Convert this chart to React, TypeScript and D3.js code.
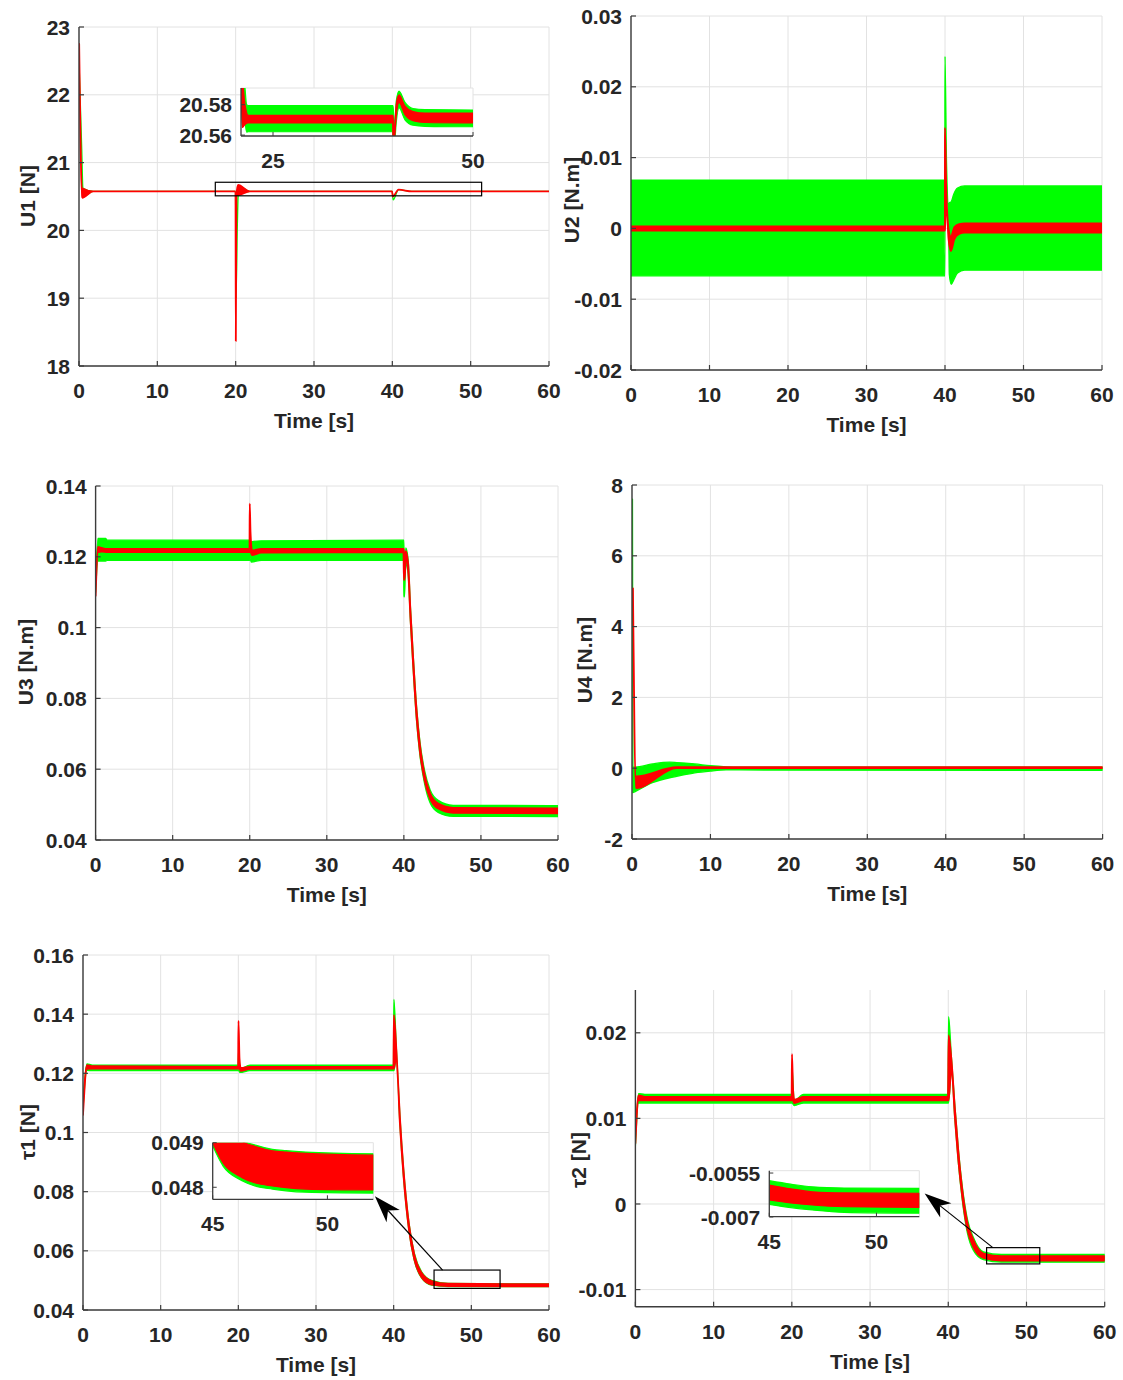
import React from "react";
import * as d3 from "d3";

type Pt = [number, number, number]; // [time, low, high]

const FONT = "'Liberation Sans', Arial, Helvetica, sans-serif";
const GREEN = "#00ff00";
const RED = "#ff0000";
const GRID = "#e2e2e2";
const AXIS = "#3c3c3c";
const TEXT = "#262626";

// ---------- shared time axis ----------
const timeTicks = [0, 10, 20, 30, 40, 50, 60];
const timeTickLabels = ["0", "10", "20", "30", "40", "50", "60"];

// ---------- U1 ----------
const u1YTicks = [18, 19, 20, 21, 22, 23];
const u1YLabels = ["18", "19", "20", "21", "22", "23"];
const u1Green: Pt[] = [
  [0, 22.5, 22.5], [0.35, 21.2, 21.2], [0.5, 20.5, 20.62], [1.8, 20.575, 20.575],
  [19.98, 20.575, 20.575], [20.05, 19.0, 19.0], [20.2, 20.0, 20.0], [20.35, 20.52, 20.66],
  [21.8, 20.575, 20.575], [40.0, 20.575, 20.575], [40.1, 20.45, 20.45], [40.8, 20.6, 20.6],
  [42.5, 20.575, 20.575], [60, 20.575, 20.575],
];
const u1Red: Pt[] = [
  [0.02, 22.75, 22.75], [0.4, 20.48, 20.62], [1.8, 20.575, 20.575], [19.98, 20.575, 20.575],
  [20.02, 18.37, 18.37], [20.1, 20.52, 20.52], [20.3, 20.52, 20.67], [21.8, 20.575, 20.575],
  [39.97, 20.575, 20.575], [40.05, 20.5, 20.5], [40.8, 20.6, 20.6], [42.5, 20.575, 20.575],
  [60, 20.575, 20.575],
];
const u1InsetGreen: Pt[] = [
  [21.0, 20.595, 20.595], [21.4, 20.575, 20.595], [21.7, 20.562, 20.58], [21.9, 20.5622, 20.5794],
  [39.95, 20.5622, 20.5794], [40.0, 20.556, 20.5794], [40.2, 20.556, 20.565], [40.4, 20.568, 20.582],
  [40.75, 20.578, 20.589], [41.5, 20.570, 20.5815], [42.5, 20.5665, 20.5775], [44, 20.5658, 20.5768],
  [50, 20.5655, 20.5765],
];
const u1InsetRed: Pt[] = [
  [21.0, 20.595, 20.595], [21.15, 20.565, 20.595], [21.5, 20.567, 20.58], [21.9, 20.568, 20.573],
  [39.95, 20.568, 20.573], [40.0, 20.556, 20.573], [40.15, 20.556, 20.562], [40.4, 20.572, 20.58],
  [40.75, 20.5815, 20.5865], [41.5, 20.5735, 20.579], [42.5, 20.5695, 20.5755], [44, 20.5683, 20.5745],
  [50, 20.568, 20.5745],
];
const u1InsetXTicks = [25, 50];
const u1InsetXLabels = ["25", "50"];
const u1InsetYTicks = [20.56, 20.58];
const u1InsetYLabels = ["20.56", "20.58"];
const u1ZoomBox = [17.4, 51.4, 20.51, 20.71];

// ---------- U2 ----------
const u2YTicks = [-0.02, -0.01, 0, 0.01, 0.02, 0.03];
const u2YLabels = ["-0.02", "-0.01", "0", "0.01", "0.02", "0.03"];
const u2Green: Pt[] = [
  [0, -0.0067, 0.0068], [39.99, -0.0067, 0.0068], [40.0, 0.016, 0.0243], [40.2, 0.006, 0.009],
  [40.45, 0.0015, 0.0035], [40.55, -0.0065, 0.0036], [40.8, -0.0079, 0.0038], [41.1, -0.0073, 0.0048],
  [41.6, -0.0063, 0.0057], [42.5, -0.0059, 0.006], [60, -0.0059, 0.006],
];
const u2Red: Pt[] = [
  [0, -0.0003, 0.0003], [39.98, -0.0003, 0.0003], [40.0, 0.0, 0.0142], [40.15, 0.004, 0.006],
  [40.45, -0.0015, 0.0], [40.75, -0.0032, -0.0012], [41.2, -0.0015, 0.0002], [41.8, -0.0008, 0.0006],
  [42.5, -0.0006, 0.0007], [60, -0.0006, 0.0007],
];

// ---------- U3 ----------
const u3YTicks = [0.04, 0.06, 0.08, 0.1, 0.12, 0.14];
const u3YLabels = ["0.04", "0.06", "0.08", "0.1", "0.12", "0.14"];
const u3Green: Pt[] = [
  [0, 0.110, 0.112], [0.3, 0.1188, 0.1252], [1.3, 0.1188, 0.1252], [1.5, 0.119, 0.1247],
  [20.0, 0.119, 0.1247], [20.05, 0.1195, 0.124], [20.2, 0.1185, 0.1242], [21.5, 0.119, 0.1245],
  [39.97, 0.119, 0.1247], [40.0, 0.1087, 0.1247], [40.08, 0.1087, 0.112], [40.25, 0.118, 0.1225],
  [40.55, 0.1152, 0.1192], [40.85, 0.1019, 0.1059], [41.2, 0.0886, 0.0926], [41.65, 0.0736, 0.0776],
  [42.07, 0.0642, 0.0681], [42.7, 0.0558, 0.0595], [43.4, 0.0505, 0.0542], [44.45, 0.0478, 0.0512],
  [46.4, 0.0467, 0.0498], [60, 0.0466, 0.0497],
];
const u3Red: Pt[] = [
  [0, 0.109, 0.110], [0.3, 0.1213, 0.1228], [0.8, 0.1215, 0.1225], [1.5, 0.1213, 0.1222],
  [19.97, 0.1213, 0.1222], [20.0, 0.1213, 0.135], [20.1, 0.1213, 0.127], [20.3, 0.1205, 0.1218],
  [21.5, 0.1212, 0.1222], [39.95, 0.1213, 0.1222], [40.0, 0.1135, 0.1222], [40.1, 0.1135, 0.118],
  [40.25, 0.1198, 0.1216], [40.55, 0.1162, 0.1182], [40.85, 0.1029, 0.1049], [41.2, 0.0896, 0.0916],
  [41.65, 0.0746, 0.0766], [42.07, 0.0652, 0.067], [42.7, 0.0568, 0.0584], [43.4, 0.0517, 0.0532],
  [44.45, 0.0489, 0.0503], [46.4, 0.0477, 0.0491], [60, 0.0475, 0.0489],
];

// ---------- U4 ----------
const u4YTicks = [-2, 0, 2, 4, 6, 8];
const u4YLabels = ["-2", "0", "2", "4", "6", "8"];
const u4Green: Pt[] = [
  [0.06, 7.6, 7.6], [0.12, -0.69, 0.03], [0.4, -0.66, 0.03], [2.6, -0.41, 0.12], [4.8, -0.27, 0.17],
  [5.7, -0.23, 0.16], [8, -0.13, 0.12], [10, -0.08, 0.07], [12, -0.05, 0.04], [13.7, -0.05, 0.03],
  [60, -0.06, 0.03],
];
const u4Red: Pt[] = [
  [0.12, 5.08, 5.08], [0.5, -0.56, -0.23], [5.7, 0.0, 0.03], [60, 0.0, 0.03],
];

// ---------- tau1 ----------
const t1YTicks = [0.04, 0.06, 0.08, 0.1, 0.12, 0.14, 0.16];
const t1YLabels = ["0.04", "0.06", "0.08", "0.1", "0.12", "0.14", "0.16"];
const t1Green: Pt[] = [
  [0, 0.108, 0.110], [0.5, 0.121, 0.1232], [1.2, 0.1209, 0.1228], [19.97, 0.1209, 0.1228],
  [20.05, 0.121, 0.128], [20.2, 0.1203, 0.1215], [21.5, 0.1209, 0.1228], [39.97, 0.1209, 0.1228],
  [40.03, 0.1209, 0.145], [40.35, 0.1255, 0.1283], [40.8, 0.1028, 0.1057], [41.27, 0.0849, 0.0878],
  [41.96, 0.0669, 0.0696], [42.65, 0.0568, 0.0593], [43.6, 0.0508, 0.0529], [44.9, 0.0484, 0.05],
  [47, 0.0479, 0.049], [60, 0.0479, 0.0488],
];
const t1Red: Pt[] = [
  [0, 0.106, 0.107], [0.5, 0.1215, 0.1228], [1.2, 0.1216, 0.1224], [19.97, 0.1216, 0.1222],
  [20.02, 0.1216, 0.1377], [20.15, 0.1216, 0.125], [20.3, 0.1208, 0.1218], [21.5, 0.1215, 0.1222],
  [39.97, 0.1216, 0.1222], [40.03, 0.1216, 0.1397], [40.35, 0.1258, 0.1278], [40.8, 0.1032, 0.1052],
  [41.27, 0.0853, 0.0873], [41.96, 0.0673, 0.0691], [42.65, 0.0572, 0.0588], [43.6, 0.0511, 0.0525],
  [44.9, 0.0486, 0.0498], [47, 0.0481, 0.0489], [60, 0.048, 0.0487],
];
const t1InsetRed: Pt[] = [
  [45, 0.049, 0.0492], [45.46, 0.04854, 0.0492], [46.2, 0.04824, 0.0492], [46.3, 0.04821, 0.04903],
  [46.9, 0.04809, 0.04891], [47.6, 0.04803, 0.04882], [48.2, 0.04799, 0.04879], [49.06, 0.04796, 0.04876],
  [52, 0.04794, 0.04872],
];
const t1InsetGreen: Pt[] = [
  [45, 0.04893, 0.0492], [45.46, 0.04847, 0.0492], [46.2, 0.04817, 0.0492], [46.3, 0.04814, 0.04906],
  [46.9, 0.04802, 0.04894], [47.6, 0.04796, 0.04885], [48.2, 0.04792, 0.04882], [49.06, 0.04789, 0.04879],
  [52, 0.04787, 0.04875],
];
const t1InsetXTicks = [45, 50];
const t1InsetXLabels = ["45", "50"];
const t1InsetYTicks = [0.048, 0.049];
const t1InsetYLabels = ["0.048", "0.049"];
const t1ZoomBox = [45.2, 53.7, 0.0473, 0.0535];
const t1ArrowTail = [46.3, 0.0535];
const t1ArrowTip = [52.07, 0.0478];

// ---------- tau2 ----------
const t2YTicks = [-0.01, 0, 0.01, 0.02];
const t2YLabels = ["-0.01", "0", "0.01", "0.02"];
const t2Green: Pt[] = [
  [0, 0.0068, 0.0074], [0.4, 0.0118, 0.0129], [1.2, 0.0118, 0.0128], [19.97, 0.0118, 0.0128],
  [20.02, 0.0118, 0.016], [20.3, 0.0115, 0.0121], [21.5, 0.0118, 0.0128], [39.97, 0.0118, 0.0128],
  [40.04, 0.0118, 0.0219], [40.4, 0.0156, 0.0172], [40.85, 0.0098, 0.0114], [41.3, 0.0047, 0.0063],
  [41.8, 0.0004, 0.002], [42.45, -0.0034, -0.0018], [43.2, -0.0054, -0.0039], [44.5, -0.0065, -0.0056],
  [46.8, -0.0068, -0.0059], [60, -0.0068, -0.0059],
];
const t2Red: Pt[] = [
  [0, 0.0071, 0.0071], [0.4, 0.0121, 0.0127], [1.2, 0.0121, 0.0125], [19.97, 0.0121, 0.0125],
  [20.02, 0.0121, 0.0175], [20.15, 0.0121, 0.0135], [20.3, 0.0118, 0.0122], [21.5, 0.0121, 0.0125],
  [39.97, 0.0121, 0.0125], [40.04, 0.0121, 0.0197], [40.4, 0.0159, 0.0169], [40.85, 0.0101, 0.0111],
  [41.3, 0.005, 0.006], [41.8, 0.0008, 0.0016], [42.45, -0.003, -0.0022], [43.2, -0.005, -0.0042],
  [44.5, -0.0063, -0.0058], [46.8, -0.0066, -0.0061], [60, -0.0066, -0.0061],
];
const t2InsetRed: Pt[] = [
  [45, -0.00642, -0.00591], [46, -0.00652, -0.00604], [47, -0.00659, -0.00614],
  [48.5, -0.00665, -0.00618], [52, -0.00667, -0.00619],
];
const t2InsetGreen: Pt[] = [
  [45, -0.00657, -0.00576], [46, -0.00668, -0.00588], [47, -0.00676, -0.00597],
  [48.5, -0.00684, -0.00601], [52, -0.00687, -0.00602],
];
const t2InsetXTicks = [45, 50];
const t2InsetXLabels = ["45", "50"];
const t2InsetYTicks = [-0.007, -0.0055];
const t2InsetYLabels = ["-0.007", "-0.0055"];
const t2ZoomBox = [44.9, 51.7, -0.007, -0.0051];
const t2ArrowTail = [45.7, -0.0051];
const t2ArrowTip = [52.25, -0.0062];

// ---------- layout ----------
interface InsetSpec {
  box: number[]; // left, right, top, bottom
  xDomain: number[];
  yDomain: number[];
  green: Pt[];
  red: Pt[];
  xTicks: number[];
  xLabels: string[];
  yTicks: number[];
  yLabels: string[];
}
interface PanelSpec {
  id: string;
  box: number[];
  yDomain: number[];
  yTicks: number[];
  yLabels: string[];
  yTitle: string;
  yTitlePos: number[];
  green: Pt[];
  red: Pt[];
  zoomBox?: number[];
  inset?: InsetSpec;
  arrowTail?: number[];
  arrowTip?: number[];
}

const panels: PanelSpec[] = [
  {
    id: "u1", box: [79, 549, 27, 366], yDomain: [18, 23], yTicks: u1YTicks, yLabels: u1YLabels,
    yTitle: "U1 [N]", yTitlePos: [27, 196], green: u1Green, red: u1Red, zoomBox: u1ZoomBox,
    inset: {
      box: [241, 473, 88, 136], xDomain: [21, 50], yDomain: [20.5594, 20.591],
      green: u1InsetGreen, red: u1InsetRed, xTicks: u1InsetXTicks, xLabels: u1InsetXLabels,
      yTicks: u1InsetYTicks, yLabels: u1InsetYLabels,
    },
  },
  {
    id: "u2", box: [631, 1102, 16, 370], yDomain: [-0.02, 0.03], yTicks: u2YTicks, yLabels: u2YLabels,
    yTitle: "U2 [N.m]", yTitlePos: [571, 200], green: u2Green, red: u2Red,
  },
  {
    id: "u3", box: [95.6, 558, 486, 840], yDomain: [0.04, 0.14], yTicks: u3YTicks, yLabels: u3YLabels,
    yTitle: "U3 [N.m]", yTitlePos: [25.5, 662], green: u3Green, red: u3Red,
  },
  {
    id: "u4", box: [632, 1102.6, 485, 839], yDomain: [-2, 8], yTicks: u4YTicks, yLabels: u4YLabels,
    yTitle: "U4 [N.m]", yTitlePos: [584.5, 660], green: u4Green, red: u4Red,
  },
  {
    id: "t1", box: [83, 549, 955, 1310], yDomain: [0.04, 0.16], yTicks: t1YTicks, yLabels: t1YLabels,
    yTitle: "τ1 [N]", yTitlePos: [27, 1132], green: t1Green, red: t1Red, zoomBox: t1ZoomBox,
    arrowTail: t1ArrowTail, arrowTip: t1ArrowTip,
    inset: {
      box: [212.7, 373.3, 1142.7, 1199.3], xDomain: [45, 52], yDomain: [0.04773, 0.049],
      green: t1InsetGreen, red: t1InsetRed, xTicks: t1InsetXTicks, xLabels: t1InsetXLabels,
      yTicks: t1InsetYTicks, yLabels: t1InsetYLabels,
    },
  },
  {
    id: "t2", box: [635.4, 1104.7, 990, 1306.7], yDomain: [-0.012, 0.025], yTicks: t2YTicks, yLabels: t2YLabels,
    yTitle: "τ2 [N]", yTitlePos: [578, 1160], green: t2Green, red: t2Red, zoomBox: t2ZoomBox,
    arrowTail: t2ArrowTail, arrowTip: t2ArrowTip,
    inset: {
      box: [769.3, 919.3, 1170.7, 1216.7], xDomain: [45, 52], yDomain: [-0.00699, -0.00542],
      green: t2InsetGreen, red: t2InsetRed, xTicks: t2InsetXTicks, xLabels: t2InsetXLabels,
      yTicks: t2InsetYTicks, yLabels: t2InsetYLabels,
    },
  },
];

function bandPath(data: Pt[], sx: d3.ScaleLinear<number, number>, sy: d3.ScaleLinear<number, number>) {
  return d3
    .area<Pt>()
    .x((d) => sx(d[0]))
    .y0((d) => sy(d[1]))
    .y1((d) => sy(d[2]))
    .curve(d3.curveMonotoneX)(data) || "";
}

const FS = 21;

function Inset({ spec, id }: { spec: InsetSpec; id: string }) {
  const [l, r, t, b] = spec.box;
  const sx = d3.scaleLinear().domain(spec.xDomain).range([l, r]);
  const sy = d3.scaleLinear().domain(spec.yDomain).range([b, t]);
  return (
    <g>
      <rect x={l} y={t} width={r - l} height={b - t} fill="#fff" />
      <line x1={l} x2={r} y1={t} y2={t} stroke={GRID} strokeWidth={1} />
      <line x1={r} x2={r} y1={t} y2={b} stroke={GRID} strokeWidth={1} />
      <clipPath id={`clip-in-${id}`}>
        <rect x={l} y={t} width={r - l} height={b - t} />
      </clipPath>
      <g clipPath={`url(#clip-in-${id})`}>
        <path d={bandPath(spec.green, sx, sy)} fill={GREEN} stroke={GREEN} strokeWidth={1.2} />
        <path d={bandPath(spec.red, sx, sy)} fill={RED} stroke={RED} strokeWidth={1.2} />
      </g>
      <line x1={l} x2={l} y1={t} y2={b} stroke={AXIS} strokeWidth={1.3} />
      <line x1={l} x2={r} y1={b} y2={b} stroke={AXIS} strokeWidth={1.3} />
      {spec.xTicks.map((v, i) => (
        <g key={`x${i}`}>
          <line x1={sx(v)} x2={sx(v)} y1={b} y2={b - 4} stroke={AXIS} strokeWidth={1} />
          <text x={sx(v)} y={b + 32} textAnchor="middle" fontSize={FS} fontWeight="bold" fill={TEXT} fontFamily={FONT}>
            {spec.xLabels[i]}
          </text>
        </g>
      ))}
      {spec.yTicks.map((v, i) => (
        <g key={`y${i}`}>
          <line x1={l} x2={l + 4} y1={sy(v)} y2={sy(v)} stroke={AXIS} strokeWidth={1} />
          <text x={l - 9} y={sy(v)} dy="0.36em" textAnchor="end" fontSize={FS} fontWeight="bold" fill={TEXT} fontFamily={FONT}>
            {spec.yLabels[i]}
          </text>
        </g>
      ))}
    </g>
  );
}

function Arrow({ tail, tip }: { tail: number[]; tip: number[] }) {
  const dx = tail[0] - tip[0];
  const dy = tail[1] - tip[1];
  const len = Math.hypot(dx, dy);
  const ux = dx / len, uy = dy / len;
  const px = -uy, py = ux;
  const L = 27, w = 9;
  const bx = tip[0] + ux * L, by = tip[1] + uy * L;
  const nx = tip[0] + ux * L * 0.72, ny = tip[1] + uy * L * 0.72;
  const head = `M${tip[0]},${tip[1]}L${bx + px * w},${by + py * w}L${nx},${ny}L${bx - px * w},${by - py * w}Z`;
  return (
    <g>
      <line x1={nx} y1={ny} x2={tail[0]} y2={tail[1]} stroke="#000" strokeWidth={1.2} />
      <path d={head} fill="#000" />
    </g>
  );
}

function Panel({ p }: { p: PanelSpec }) {
  const [l, r, t, b] = p.box;
  const sx = d3.scaleLinear().domain([0, 60]).range([l, r]);
  const sy = d3.scaleLinear().domain(p.yDomain).range([b, t]);
  let tailPx: number[] | null = null;
  let tipPx: number[] | null = null;
  if (p.inset && p.arrowTail && p.arrowTip) {
    const isx = d3.scaleLinear().domain(p.inset.xDomain).range([p.inset.box[0], p.inset.box[1]]);
    const isy = d3.scaleLinear().domain(p.inset.yDomain).range([p.inset.box[3], p.inset.box[2]]);
    tailPx = [sx(p.arrowTail[0]), sy(p.arrowTail[1])];
    tipPx = [isx(p.arrowTip[0]), isy(p.arrowTip[1])];
  }
  return (
    <g>
      {timeTicks.map((v) => (
        <line key={`gx${v}`} x1={sx(v)} x2={sx(v)} y1={t} y2={b} stroke={GRID} strokeWidth={1} />
      ))}
      {p.yTicks.map((v) => (
        <line key={`gy${v}`} x1={l} x2={r} y1={sy(v)} y2={sy(v)} stroke={GRID} strokeWidth={1} />
      ))}
      <clipPath id={`clip-${p.id}`}>
        <rect x={l} y={t} width={r - l} height={b - t} />
      </clipPath>
      <g clipPath={`url(#clip-${p.id})`}>
        <path d={bandPath(p.green, sx, sy)} fill={GREEN} stroke={GREEN} strokeWidth={1.3} strokeLinejoin="round" />
        <path d={bandPath(p.red, sx, sy)} fill={RED} stroke={RED} strokeWidth={1.8} strokeLinejoin="round" />
      </g>
      <line x1={l} x2={l} y1={t} y2={b} stroke={AXIS} strokeWidth={1.4} />
      <line x1={l} x2={r} y1={b} y2={b} stroke={AXIS} strokeWidth={1.4} />
      {timeTicks.map((v, i) => (
        <g key={`tx${v}`}>
          <line x1={sx(v)} x2={sx(v)} y1={b} y2={b - 5} stroke={AXIS} strokeWidth={1.2} />
          <text x={sx(v)} y={b + 32} textAnchor="middle" fontSize={FS} fontWeight="bold" fill={TEXT} fontFamily={FONT}>
            {timeTickLabels[i]}
          </text>
        </g>
      ))}
      {p.yTicks.map((v, i) => (
        <g key={`ty${v}`}>
          <line x1={l} x2={l + 5} y1={sy(v)} y2={sy(v)} stroke={AXIS} strokeWidth={1.2} />
          <text x={l - 9} y={sy(v)} dy="0.36em" textAnchor="end" fontSize={FS} fontWeight="bold" fill={TEXT} fontFamily={FONT}>
            {p.yLabels[i]}
          </text>
        </g>
      ))}
      <text x={(l + r) / 2} y={b + 62} textAnchor="middle" fontSize={FS} fontWeight="bold" fill={TEXT} fontFamily={FONT}>
        Time [s]
      </text>
      <text
        transform={`translate(${p.yTitlePos[0]},${p.yTitlePos[1]}) rotate(-90)`}
        dy="0.36em"
        textAnchor="middle"
        fontSize={FS}
        fontWeight="bold"
        fill={TEXT}
        fontFamily={FONT}
      >
        {p.yTitle}
      </text>
      {p.zoomBox && (
        <rect
          x={sx(p.zoomBox[0])}
          y={sy(p.zoomBox[3])}
          width={sx(p.zoomBox[1]) - sx(p.zoomBox[0])}
          height={sy(p.zoomBox[2]) - sy(p.zoomBox[3])}
          fill="none"
          stroke="#000"
          strokeWidth={1.2}
        />
      )}
      {p.inset && <Inset spec={p.inset} id={p.id} />}
      {tailPx && tipPx && <Arrow tail={tailPx} tip={tipPx} />}
    </g>
  );
}

export default function App() {
  return (
    <svg
      width={1123}
      height={1380}
      viewBox="0 0 1123 1380"
      style={{ position: "absolute", left: 0, top: 0, background: "#fff" }}
    >
      <rect x={0} y={0} width={1123} height={1380} fill="#fff" />
      {panels.map((p) => (
        <Panel key={p.id} p={p} />
      ))}
    </svg>
  );
}
